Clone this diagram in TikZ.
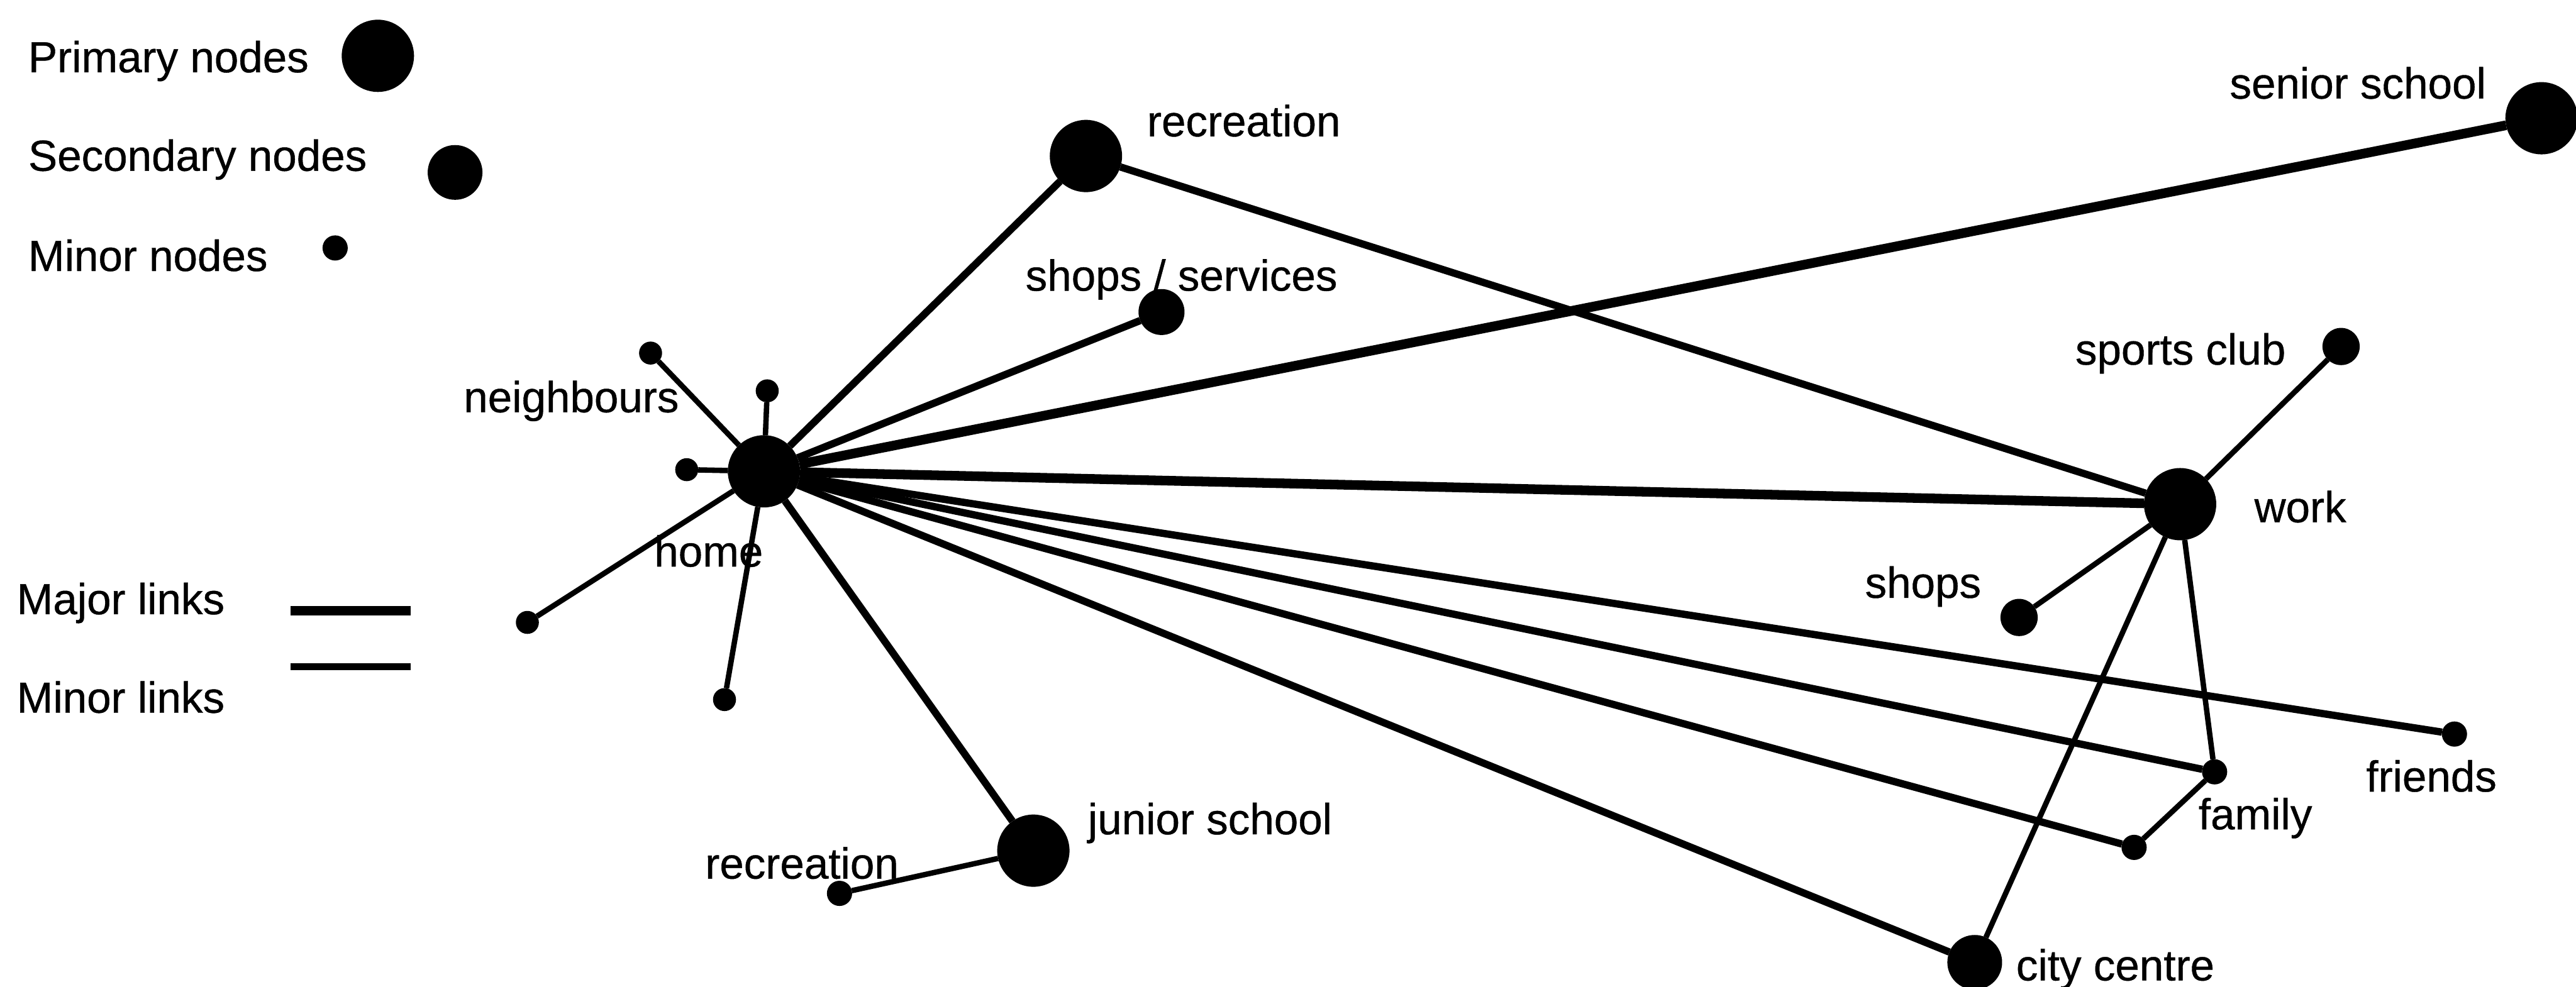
\documentclass[tikz,border=0pt]{standalone}
\usepackage{fontspec}
\setmainfont{Liberation Sans}[FakeBold=0.6]
\begin{document}
\begin{tikzpicture}[x=0.03cm,y=-0.03cm,
  dot/.style={circle,fill=black,inner sep=0pt,outer sep=0pt},
  primary/.style={dot,minimum size=1.32cm},
  secondary/.style={dot,minimum size=1.0cm},
  medium/.style={dot,minimum size=0.68cm},
  minornode/.style={dot,minimum size=0.46cm},
  lbl/.style={anchor=base west,inner sep=0pt,font=\fontsize{22.6}{27}\selectfont},
  heavy/.style={line width=5pt},
  midline/.style={line width=3.8pt},
  light/.style={line width=2.8pt}]
\useasboundingbox (0,0) rectangle (1568,601);

% legend
\node[lbl] (lp) at (17,44) {Primary nodes};
\node[primary] (kp) at (230,34) {};
\node[lbl] (ls) at (17,104) {Secondary nodes};
\node[secondary] (ks) at (277,105) {};
\node[lbl] (lm) at (17,165) {Minor nodes};
\node[minornode] (km) at (204,151) {};
\node[lbl] (lmaj) at (10,374) {Major links};
\node[lbl] (lmin) at (10,434) {Minor links};
\coordinate (maja) at (177,372);
\coordinate (majb) at (250,372);
\coordinate (mina) at (177,406);
\coordinate (minb) at (250,406);
\draw[heavy] (maja) -- (majb);
\draw[midline] (mina) -- (minb);

% places
\node[primary] (home) at (465,287) {};
\node[primary] (rectop) at (661,95) {};
\node[dot,minimum size=0.84cm] (shopserv) at (707,190) {};
\node[primary] (senior) at (1547,72) {};
\node[primary] (work) at (1327,307) {};
\node[medium] (sports) at (1425,211) {};
\node[medium] (shopsr) at (1229,376) {};
\node[secondary] (city) at (1202,586) {};
\node[minornode] (friends) at (1494,447) {};
\node[minornode] (famu) at (1348,470) {};
\node[minornode] (faml) at (1299,516) {};
\node[primary] (junior) at (629,518) {};
\node[minornode] (reclow) at (511,544) {};
\node[dot,minimum size=0.42cm] (n1) at (396,215) {};
\node[dot,minimum size=0.42cm] (n2) at (467,238) {};
\node[dot,minimum size=0.42cm] (n3) at (418,286) {};
\node[dot,minimum size=0.42cm] (n4) at (321,379) {};
\node[dot,minimum size=0.42cm] (n5) at (441,426) {};

% links
\draw[heavy] (home) -- (senior);
\draw[heavy] (home) -- (work);
\draw[midline] (home) -- (rectop);
\draw[midline] (home) -- (shopserv);
\draw[midline] (home) -- (junior);
\draw[midline] (home) -- (friends);
\draw[midline] (home) -- (famu);
\draw[midline] (home) -- (faml);
\draw[midline] (home) -- (city);
\draw[midline] (rectop) -- (work);
\draw[light] (home) -- (n1);
\draw[light] (home) -- (n2);
\draw[light] (home) -- (n3);
\draw[light] (home) -- (n4);
\draw[light] (home) -- (n5);
\draw[light] (work) -- (sports);
\draw[light] (work) -- (shopsr);
\draw[light] (work) -- (famu);
\draw[light] (work) -- (city);
\draw[light] (famu) -- (faml);
\draw[light] (junior) -- (reclow);

% labels
\node[lbl] (thome) at (398,345) {home};
\node[lbl] (tneigh) at (282,251) {neighbours};
\node[lbl] (trectop) at (698,83) {recreation};
\node[lbl] (tshopserv) at (624,177) {shops / services};
\node[lbl] (tsenior) at (1357,60) {senior school};
\node[lbl] (tsports) at (1263,222) {sports club};
\node[lbl] (twork) at (1372,318) {work};
\node[lbl] (tshopsr) at (1135,364) {shops};
\node[lbl] (tfriends) at (1440,482) {friends};
\node[lbl] (tfamily) at (1338,505) {family};
\node[lbl] (tcity) at (1227,597) {city centre};
\node[lbl] (tjunior) at (662,508) {junior school};
\node[lbl] (treclow) at (429,535) {recreation};
\end{tikzpicture}
\end{document}
